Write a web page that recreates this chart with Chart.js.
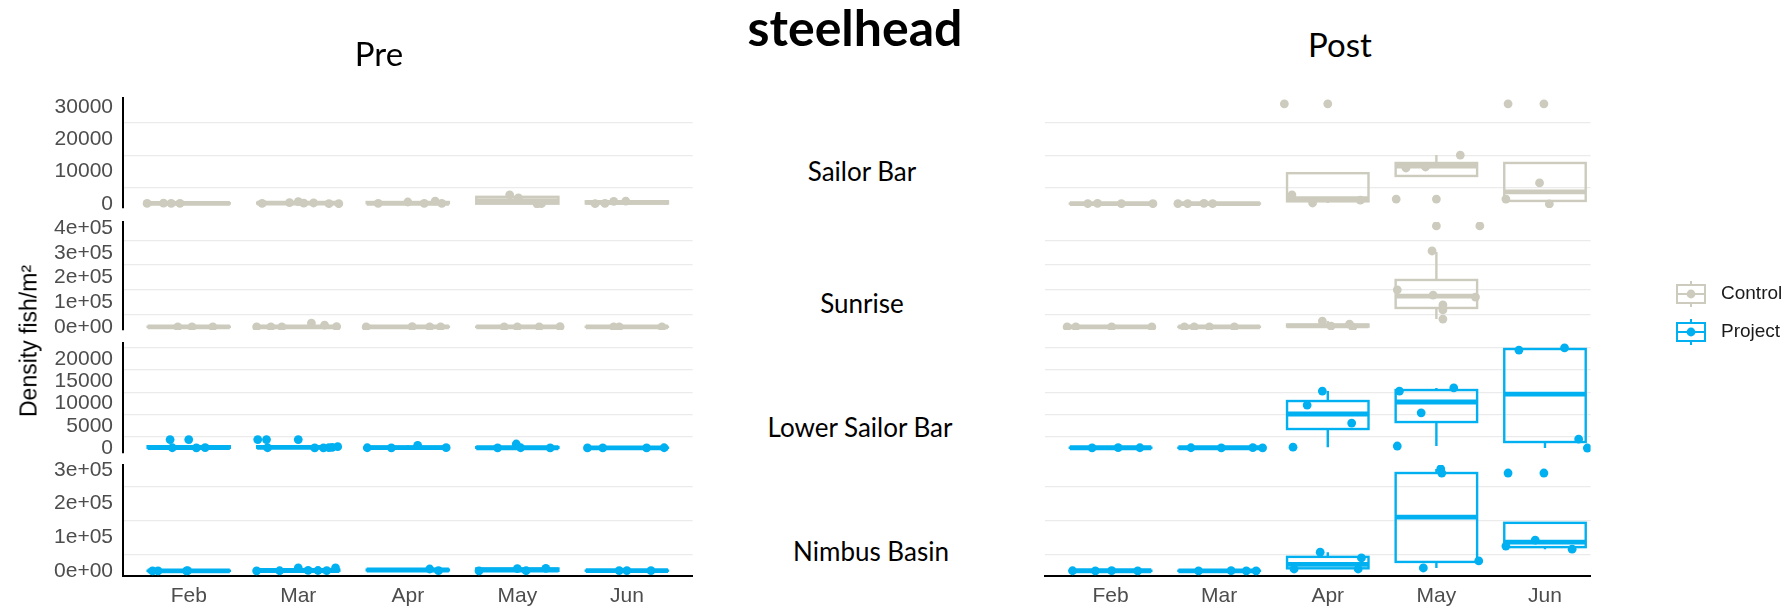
<!DOCTYPE html>
<html>
<head>
<meta charset="utf-8">
<title>steelhead</title>
<script src="https://cdn.jsdelivr.net/npm/chart.js@4.4.1/dist/chart.umd.min.js"></script>
<style>
  html, body { margin: 0; background: #fff; }
  #page { position: relative; width: 1791px; height: 608px; overflow: hidden; background: #fff; }
  #page canvas { position: absolute; }
  .txt { position: absolute; white-space: nowrap; line-height: 1; color: #000; }
</style>
</head>
<body>
<div id="page"></div>
<script>
const MONTHS = ['Feb', 'Mar', 'Apr', 'May', 'Jun'];
const SITES = ['Sailor Bar', 'Sunrise', 'Lower Sailor Bar', 'Nimbus Basin'];
const GROUPS = ['Control', 'Project'];

// y tick labels per site row (top to bottom)
const SAILOR_BAR_TICKS = [0, 10000, 20000, 30000];
const SUNRISE_TICKS = [0, 100000, 200000, 300000, 400000];
const LOWER_SAILOR_BAR_TICKS = [0, 5000, 10000, 15000, 20000];
const NIMBUS_BASIN_TICKS = [0, 100000, 200000, 300000];

// boxes per month: [lower whisker, q1, median, q3, upper whisker]
// points: [month position (0 = Feb) with jitter, density]
const preSailorBarBox = [[150, 160, 190, 220, 250], [80, 150, 250, 400, 700], [150, 200, 200, 600, 900], [50, 80, 1000, 2200, 2800], [100, 140, 480, 820, 900]];
const preSailorBarPts = [[-0.38, 150], [-0.23, 250], [-0.16, 200], [-0.08, 180],
  [0.67, 150], [0.92, 400], [1.00, 700], [1.05, 250], [1.14, 300], [1.28, 100], [1.37, 80],
  [1.73, 150], [2.00, 600], [2.15, 200], [2.25, 900], [2.31, 200],
  [2.93, 2800], [3.01, 1900], [3.18, 50], [3.22, 100],
  [3.71, 100], [3.80, 150], [3.88, 800], [3.99, 900]];

const preSunriseBox = [[600, 700, 800, 900, 1000], [500, 600, 800, 3000, 8000], [500, 650, 900, 1250, 1500], [600, 700, 800, 1000, 1200], [600, 700, 800, 900, 1000]];
const preSunrisePts = [[-0.10, 800], [0.03, 600], [0.22, 1000],
  [0.62, 500], [0.75, 800], [0.85, 600], [1.12, 16000], [1.24, 8000], [1.35, 2000],
  [1.62, 500], [2.04, 1500], [2.20, 1000], [2.30, 800],
  [2.88, 600], [3.00, 900], [3.20, 700], [3.39, 1200],
  [3.88, 1000], [3.93, 800], [4.32, 600]];

const preLowerSailorBarBox = [[50, 60, 80, 400, 400], [40, 60, 150, 400, 400], [50, 60, 80, 300, 600], [40, 50, 60, 200, 900], [30, 40, 50, 60, 60]];
const preLowerSailorBarPts = [[-0.17, 1900], [-0.15, 60], [0.00, 1900], [0.07, 50], [0.15, 80],
  [0.63, 1900], [0.71, 1900], [0.72, 60], [1.00, 1900], [1.15, 50], [1.23, 40], [1.28, 100], [1.31, 150], [1.36, 300],
  [1.63, 60], [1.85, 50], [2.09, 600], [2.35, 80],
  [2.82, 50], [2.99, 900], [3.03, 60], [3.30, 40],
  [3.64, 30], [3.78, 50], [4.18, 40], [4.34, 60]];

const preNimbusBasinBox = [[400, 500, 600, 800, 900], [500, 900, 1500, 4000, 9000], [1000, 2000, 3000, 4000, 6000], [500, 700, 3000, 7500, 8000], [900, 950, 1000, 1100, 1200]];
const preNimbusBasinPts = [[-0.33, 500], [-0.28, 700], [-0.02, 400], [-0.01, 900],
  [0.62, 500], [0.83, 800], [1.00, 9000], [1.09, 2000], [1.18, 1500], [1.26, 1000], [1.34, 9000],
  [2.20, 6000], [2.28, 1000],
  [2.65, 500], [3.00, 7000], [3.08, 800], [3.26, 8000],
  [3.93, 1000], [4.00, 1200], [4.22, 900]];

const postSailorBarBox = [[80, 90, 110, 130, 150], [90, 100, 110, 130, 150], [300, 800, 1600, 9500, 9500], [8640, 8640, 11700, 12650, 15100], [930, 930, 3700, 12650, 12650]];
const postSailorBarPts = [[-0.21, 100], [-0.12, 150], [0.10, 120], [0.39, 80],
  [0.62, 120], [0.71, 90], [0.86, 150], [0.94, 100],
  [1.60, 30900], [2.00, 30900], [1.67, 2800], [1.86, 300], [2.30, 1200],
  [2.72, 11100], [2.90, 11400], [3.22, 15100], [2.63, 1500], [3.00, 1500],
  [3.66, 30900], [3.99, 30900], [3.95, 6500], [3.64, 1500], [4.04, 0]];

const postSunriseBox = [[400, 500, 550, 700, 800], [500, 550, 650, 800, 900], [0, 2000, 5000, 10000, 24000], [32000, 77000, 125000, 190000, 303000], null];
const postSunrisePts = [[-0.40, 500], [-0.32, 800], [0.01, 600], [0.38, 400],
  [0.68, 700], [0.77, 500], [0.91, 900], [1.14, 600],
  [1.95, 24000], [2.03, 4000], [2.20, 12000], [2.23, 0],
  [2.64, 150000], [2.97, 129000], [3.36, 121000], [2.96, 307000], [3.06, 89000], [3.06, 69000], [3.06, 32000], [3.00, 408000], [3.40, 408000]];

const postLowerSailorBarBox = [[50, 55, 60, 70, 80], [40, 50, 55, 65, 80], [200, 4270, 7640, 10560, 12800], [450, 5840, 10340, 13030, 13500], [0, 1350, 12130, 22250, 22500]];
const postLowerSailorBarPts = [[-0.17, 50], [0.07, 80], [0.27, 60],
  [0.74, 60], [1.02, 40], [1.31, 80], [1.40, 50],
  [1.68, 200], [1.81, 9660], [1.95, 12800], [2.22, 5600],
  [2.66, 12800], [3.16, 13500], [2.86, 7900], [2.64, 450],
  [3.76, 22000], [4.18, 22500], [4.31, 2000], [4.39, 0]];

const postNimbusBasinBox = [[500, 600, 750, 850, 900], [500, 550, 650, 800, 900], [6000, 8000, 20000, 42000, 56000], [9000, 27000, 160000, 291000, 303000], [65000, 71000, 86000, 143000, 143000]];
const postNimbusBasinPts = [[-0.35, 800], [-0.14, 500], [0.01, 900], [0.25, 700],
  [0.81, 600], [1.11, 900], [1.25, 700], [1.34, 500],
  [1.69, 6000], [1.93, 56000], [2.31, 39000], [2.28, 6000],
  [3.04, 303000], [3.05, 291000], [2.88, 9000], [3.39, 30000],
  [3.64, 74000], [3.91, 92000], [4.25, 65000], [3.66, 291000], [3.99, 291000]];

const CONTROL_COLOR = '#cccbbd';
const PROJECT_COLOR = '#00b0f0';
const GRID_COLOR = '#ebebeb';
const TICK_COLOR = '#4d4d4d';
const SANS = '"Liberation Sans", Arial, sans-serif';
const HEAD = 'Lato, "Noto Sans", sans-serif';
const BOX_WIDTH = 0.75;

// row geometry: plot area top/bottom in page pixels and the y range shown
const ROW_TOP = [98, 222, 343, 465];
const ROW_BOTTOM = [208, 330, 453, 576];
const ROW_MIN = [-1250, -12000, -1120, -14800];
const ROW_MAX = [32700, 424000, 23600, 314800];
const ROW_TICKS = [SAILOR_BAR_TICKS, SUNRISE_TICKS, LOWER_SAILOR_BAR_TICKS, NIMBUS_BASIN_TICKS];
const ROW_SCI = [false, true, false, true];
const PAD = 30;
const X_AXIS_H = 40;

const page = document.getElementById('page');

function sci(v) {
  if (v === 0) return '0e+00';
  const e = Math.floor(Math.log10(Math.abs(v)));
  return Math.round(v / Math.pow(10, e)) + 'e+' + String(e).padStart(2, '0');
}

// box and whiskers drawn under the jittered points
const boxPlot = {
  id: 'boxPlot',
  beforeDatasetsDraw(chart, args, opts) {
    const { ctx, chartArea: a, scales: { x, y } } = chart;
    ctx.save();
    ctx.beginPath();
    ctx.rect(a.left, a.top, a.width, a.height);
    ctx.clip();
    ctx.strokeStyle = opts.color;
    ctx.lineCap = 'butt';
    opts.boxes.forEach((b, i) => {
      if (!b) return;
      const [lo, q1, med, q3, hi] = b.map((v) => y.getPixelForValue(v));
      const x0 = x.getPixelForValue(i - BOX_WIDTH / 2);
      const x1 = x.getPixelForValue(i + BOX_WIDTH / 2);
      const xc = x.getPixelForValue(i);
      ctx.lineWidth = 2.4;
      ctx.beginPath();
      ctx.moveTo(xc, q3); ctx.lineTo(xc, hi);
      ctx.moveTo(xc, q1); ctx.lineTo(xc, lo);
      ctx.stroke();
      ctx.strokeRect(x0, q3, x1 - x0, q1 - q3);
      ctx.lineWidth = 4.8;
      ctx.beginPath();
      ctx.moveTo(x0, med); ctx.lineTo(x1, med);
      ctx.stroke();
    });
    ctx.restore();
  }
};

function makeCell(panel, row, boxes, points) {
  const isPre = panel === 'pre';
  const bottomRow = row === 3;
  const color = row < 2 ? CONTROL_COLOR : PROJECT_COLOR;
  const left = isPre ? 0 : 1041;
  const width = isPre ? 697 : 554;
  const axisWidth = isPre ? 123 : 0;
  const plotH = ROW_BOTTOM[row] - ROW_TOP[row];
  const height = PAD + plotH + (bottomRow ? X_AXIS_H : PAD);

  const canvas = document.createElement('canvas');
  canvas.width = width;
  canvas.height = height;
  canvas.style.left = left + 'px';
  canvas.style.top = (ROW_TOP[row] - PAD) + 'px';
  page.appendChild(canvas);

  const labels = ROW_TICKS[row];
  const step = labels[1] - labels[0];
  const top = labels[labels.length - 1];

  return new Chart(canvas, {
    type: 'scatter',
    data: {
      datasets: [{
        data: points.map(([x, y]) => ({ x, y })),
        backgroundColor: color,
        borderWidth: 0,
        pointRadius: 4.4,
        pointHoverRadius: 4.4,
      }],
    },
    options: {
      responsive: false,
      animation: false,
      events: [],
      layout: { padding: { top: PAD, bottom: bottomRow ? 0 : PAD, left: 0, right: 0 } },
      scales: {
        x: {
          type: 'linear',
          display: bottomRow,
          min: -0.6,
          max: isPre ? 4.6 : 4.42,
          afterBuildTicks: (s) => { s.ticks = MONTHS.map((m, i) => ({ value: i })); },
          afterFit: (s) => { s.height = bottomRow ? X_AXIS_H : 0; },
          grid: { display: false, drawTicks: false },
          border: { display: true, color: '#000', width: 2 },
          ticks: {
            autoSkip: false,
            maxRotation: 0,
            padding: 8,
            color: TICK_COLOR,
            font: { family: SANS, size: 21 },
            callback: (v) => MONTHS[v],
          },
        },
        y: {
          type: 'linear',
          min: ROW_MIN[row],
          max: ROW_MAX[row],
          afterBuildTicks: (s) => {
            const t = [];
            for (let v = 0; v <= top + step / 2 && v <= ROW_MAX[row]; v += step / 2) t.push({ value: v });
            s.ticks = t;
          },
          afterFit: (s) => { s.width = axisWidth; },
          grid: {
            drawTicks: false,
            lineWidth: 1.3,
            color: (c) => (c.tick && c.tick.value % step !== 0 ? GRID_COLOR : 'rgba(0,0,0,0)'),
          },
          border: { display: isPre, color: '#000', width: 2 },
          ticks: {
            display: isPre,
            autoSkip: false,
            padding: 10,
            color: TICK_COLOR,
            font: { family: SANS, size: 21 },
            callback: (v) => (v % step === 0 ? (ROW_SCI[row] ? sci(v) : String(v)) : ''),
          },
        },
      },
      plugins: {
        legend: { display: false },
        tooltip: { enabled: false },
        boxPlot: { boxes, color },
      },
    },
    plugins: [boxPlot],
  });
}

// guide keys on the right
const groupKeys = {
  id: 'groupKeys',
  afterDraw(chart) {
    const { ctx } = chart;
    const colors = [CONTROL_COLOR, PROJECT_COLOR];
    GROUPS.forEach((g, i) => {
      const cy = 24 + i * 38;
      const cx = 31;
      ctx.save();
      ctx.strokeStyle = colors[i];
      ctx.fillStyle = colors[i];
      ctx.lineWidth = 2;
      ctx.beginPath();
      ctx.moveTo(cx, cy - 13); ctx.lineTo(cx, cy - 9);
      ctx.moveTo(cx, cy + 9); ctx.lineTo(cx, cy + 13);
      ctx.moveTo(cx - 14, cy); ctx.lineTo(cx + 14, cy);
      ctx.stroke();
      ctx.strokeRect(cx - 14, cy - 9, 28, 18);
      ctx.beginPath();
      ctx.arc(cx, cy, 4.4, 0, Math.PI * 2);
      ctx.fill();
      ctx.fillStyle = '#1a1a1a';
      ctx.font = '19px ' + SANS;
      ctx.textBaseline = 'middle';
      ctx.fillText(g, 61, cy);
      ctx.restore();
    });
  }
};

function makeKeys() {
  const canvas = document.createElement('canvas');
  canvas.width = 131;
  canvas.height = 90;
  canvas.style.left = '1660px';
  canvas.style.top = '270px';
  page.appendChild(canvas);
  return new Chart(canvas, {
    type: 'scatter',
    data: { datasets: [] },
    options: {
      responsive: false,
      animation: false,
      events: [],
      scales: { x: { display: false }, y: { display: false } },
      plugins: { legend: { display: false }, tooltip: { enabled: false } },
    },
    plugins: [groupKeys],
  });
}

function addText(text, cx, baseline, size, family, weight, ascent) {
  const el = document.createElement('div');
  el.className = 'txt';
  el.textContent = text;
  el.style.font = `${weight} ${size}px ${family}`;
  el.style.left = cx + 'px';
  el.style.top = (baseline - ascent * size) + 'px';
  el.style.transform = 'translateX(-50%)';
  page.appendChild(el);
  return el;
}

const preCells = [
  [preSailorBarBox, preSailorBarPts],
  [preSunriseBox, preSunrisePts],
  [preLowerSailorBarBox, preLowerSailorBarPts],
  [preNimbusBasinBox, preNimbusBasinPts],
];
const postCells = [
  [postSailorBarBox, postSailorBarPts],
  [postSunriseBox, postSunrisePts],
  [postLowerSailorBarBox, postLowerSailorBarPts],
  [postNimbusBasinBox, postNimbusBasinPts],
];
preCells.forEach(([b, p], row) => makeCell('pre', row, b, p));
postCells.forEach(([b, p], row) => makeCell('post', row, b, p));
makeKeys();

addText('steelhead', 855, 41, 50, HEAD, 'bold', 0.887);
addText('Pre', 379, 62, 33, HEAD, 'normal', 0.887);
addText('Post', 1340, 53, 33, HEAD, 'normal', 0.887);
const SITE_X = [862, 862, 860, 871];
const SITE_BASE = [178, 310, 434, 558];
SITES.forEach((s, i) => addText(s, SITE_X[i], SITE_BASE[i], 26, HEAD, 'normal', 0.887));

const yTitle = addText('Density fish/m\u00b2', 29, 0, 23, SANS, 'normal', 0);
yTitle.style.transform = 'translate(-50%, -50%) rotate(-90deg)';
yTitle.style.top = '341px';
</script>
</body>
</html>
